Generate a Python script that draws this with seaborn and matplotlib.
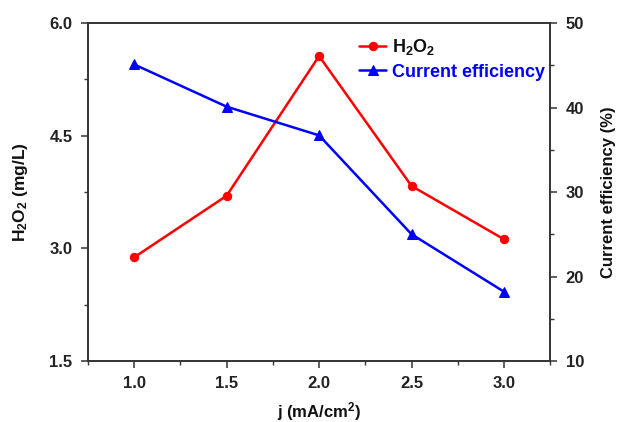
import matplotlib
matplotlib.use("Agg")
import matplotlib.pyplot as plt
import seaborn as sns
import pandas as pd
from matplotlib.ticker import AutoMinorLocator

sns.set_theme(style="ticks")
plt.rcParams['font.family'] = ['Liberation Sans', 'DejaVu Sans']
plt.rcParams['font.weight'] = 'bold'
plt.rcParams['mathtext.fontset'] = 'custom'
plt.rcParams['mathtext.rm'] = 'Liberation Sans:bold'
plt.rcParams['mathtext.bf'] = 'Liberation Sans:bold'
plt.rcParams['mathtext.it'] = 'Liberation Sans:bold'

j = [1.0, 1.5, 2.0, 2.5, 3.0]
h2o2 = [2.88, 3.70, 5.56, 3.83, 3.12]
efficiency = [45.1, 40.1, 36.7, 25.0, 18.2]
x_ticks = [1.0, 1.5, 2.0, 2.5, 3.0]
left_ticks = [1.5, 3.0, 4.5, 6.0]
right_ticks = [10, 20, 30, 40, 50]

df = pd.DataFrame({"j": j, "H2O2": h2o2, "CE": efficiency})

fig = plt.figure(figsize=(6.19, 4.22), dpi=100)
ax = fig.add_axes([0.142, 0.1445, 0.747, 0.801])
ax2 = ax.twinx()

sns.lineplot(data=df, x="j", y="H2O2", ax=ax, color="#ff0000", marker="o",
             markersize=6, markeredgecolor="#ff0000", linewidth=1.8, label=r"H$_2$O$_2$", legend=False)
sns.lineplot(data=df, x="j", y="CE", ax=ax2, color="#0000ff", marker="^",
             markersize=6.5, markeredgecolor="#0000ff", linewidth=1.8, label="Current efficiency", legend=False)

ax.set_xlim(0.75, 3.25)
ax.set_ylim(1.5, 6.0)
ax2.set_ylim(10, 50)
ax.set_xticks(x_ticks)
ax.set_xticklabels([f"{v:.1f}" for v in x_ticks])
ax.set_yticks(left_ticks)
ax.set_yticklabels([f"{v:.1f}" for v in left_ticks])
ax2.set_yticks(right_ticks)
ax2.set_yticklabels([str(v) for v in right_ticks])
ax.xaxis.set_minor_locator(AutoMinorLocator(2))
ax.yaxis.set_minor_locator(AutoMinorLocator(2))
ax2.yaxis.set_minor_locator(AutoMinorLocator(2))

for a in (ax, ax2):
    for s in a.spines.values():
        s.set_color("#333333")
        s.set_linewidth(1.2)
    a.tick_params(which="major", direction="out", length=5, width=1.1, color="#333333",
                  labelsize=12, labelcolor="#222222", pad=6)
    a.tick_params(which="minor", direction="out", length=3, width=1.0, color="#333333")
    for lbl in a.get_xticklabels() + a.get_yticklabels():
        lbl.set_fontweight("bold")

ax.set_xlabel(r"j (mA/cm$^2$)", fontsize=12, fontweight="bold", color="#111111", labelpad=6)
ax.set_ylabel(r"H$_2$O$_2$ (mg/L)", fontsize=12.5, fontweight="bold", color="#111111", labelpad=14)
ax2.set_ylabel("Current efficiency (%)", fontsize=12, fontweight="bold", color="#111111", labelpad=12)

h1, l1 = ax.get_legend_handles_labels()
h2, l2 = ax2.get_legend_handles_labels()
leg = ax2.legend(h1 + h2, l1 + l2, loc="upper right", bbox_to_anchor=(1.015, 0.995), frameon=False,
                 prop={"weight": "bold", "size": 13}, handlelength=1.5, handletextpad=0.3,
                 labelspacing=0.35, borderaxespad=0.3)
leg.get_texts()[0].set_color("#111111")
leg.get_texts()[1].set_color("#0000ff")

fig.savefig("out.png", dpi=100)
